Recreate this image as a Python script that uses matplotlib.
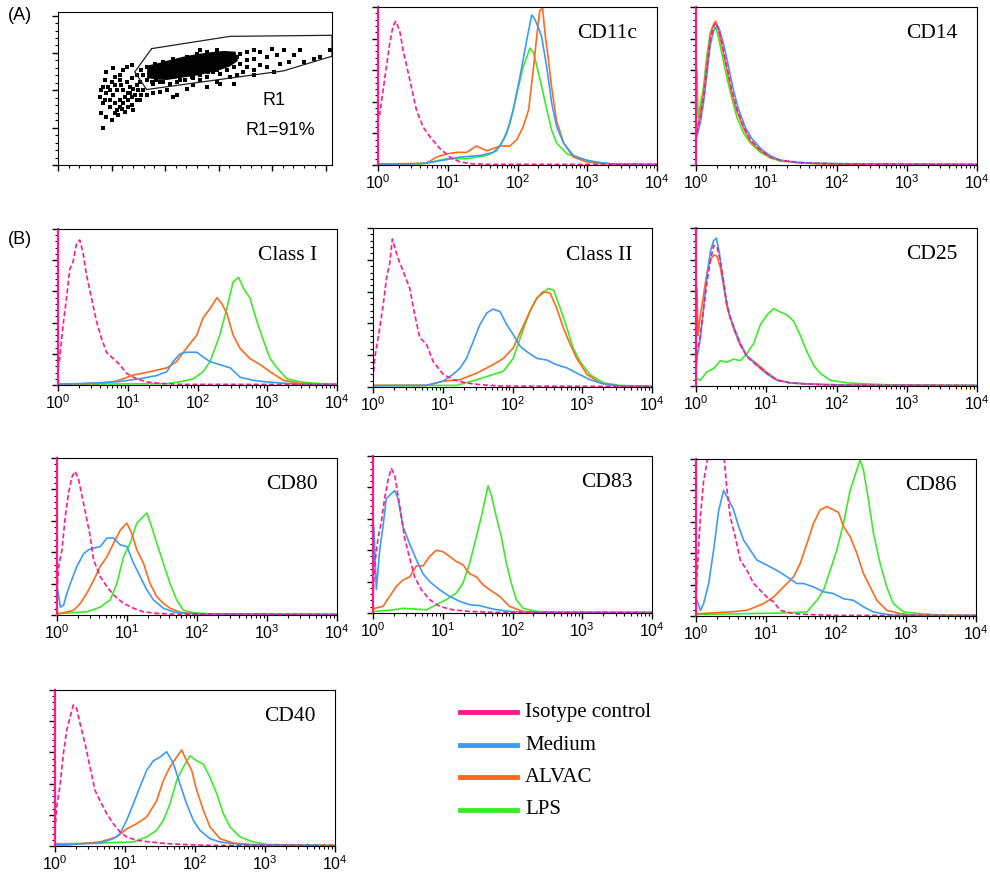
import numpy as np
import matplotlib
matplotlib.use('Agg')
import matplotlib.pyplot as plt
from matplotlib.lines import Line2D
from matplotlib.ticker import MultipleLocator, LogLocator, NullFormatter

plt.rcParams['font.family'] = ['Liberation Sans', 'DejaVu Sans']
plt.rcParams['mathtext.default'] = 'regular'

W, H = 990, 881

series_names = ['Isotype control', 'Medium', 'ALVAC', 'LPS']
series_colors = ['#FF1A8C', '#3D9BF5', '#FF6A1A', '#3CEB28']

# dot plot (FSC / SSC channels, 0..1024)
gate_fsc = [350, 643, 1024, 1024, 843, 656, 331, 287]
gate_ssc = [779, 861, 868, 728, 630, 585, 505, 623]
blob_fsc = [337, 370, 406, 440, 481, 530, 581, 620, 660, 668, 640, 600, 560, 520, 481, 440, 406, 370, 337]
blob_ssc = [660, 672, 690, 705, 723, 738, 750, 756, 752, 700, 665, 640, 622, 606, 596, 585, 576, 578, 588]
dot_fsc = [169, 162, 175, 181, 187, 200, 212, 231, 244, 256, 275, 194, 212, 231, 250,
           269, 281, 294, 306, 219, 237, 256, 275, 294, 181, 206, 262, 275, 294, 312,
           250, 219, 194, 231, 318, 331, 356, 381, 406, 431, 306, 281, 169, 156, 162,
           225, 241, 206, 269, 175,
           181, 200, 212, 231, 244, 262, 275, 194, 212, 169, 244, 262, 287, 300,
           681, 706, 731, 756, 781, 799, 818, 843, 862, 881, 906, 918, 955, 980, 1018,
           681, 706, 731, 656, 631, 606, 581, 556, 531, 556, 593, 656, 668, 693, 731,
           756, 781, 806, 831, 531, 506, 456, 431, 381, 356, 462, 531, 731, 706, 443,
           481, 506, 606, 643,
           331, 350, 368, 394, 418, 443, 475, 500, 531, 562, 593, 625, 643, 668, 593,
           556, 518, 481, 431, 393, 362, 331, 312, 318]
dot_ssc = [245, 345, 434, 479, 523, 557, 590, 601, 634, 657, 668, 390, 412, 434, 456,
           479, 512, 534, 557, 501, 534, 557, 579, 601, 623, 646, 390, 401, 434, 467,
           356, 367, 434, 568, 501, 467, 479, 490, 501, 456, 434, 367, 412, 456, 501,
           334, 378, 467, 523, 568,
           323, 301, 345, 390, 412, 434, 456, 501, 534, 523, 501, 479, 467, 501,
           746, 757, 768, 757, 723, 779, 735, 768, 690, 735, 768, 690, 712, 723, 768,
           679, 657, 634, 657, 634, 612, 623, 590, 568, 523, 557, 545, 601, 623, 601,
           668, 657, 623, 679, 634, 579, 568, 590, 557, 545, 657, 768, 712, 701, 467,
           512, 534, 545, 590,
           568, 557, 568, 557, 545, 557, 568, 590, 601, 623, 634, 668, 712, 723, 768,
           757, 746, 723, 712, 690, 679, 657, 634, 601]

# histograms: (log10 fluorescence, % of panel height)
cd11c_iso = [(0.0, 32), (0.024, 32), (0.072, 47), (0.12, 62), (0.168, 77), (0.216, 88), (0.254, 91),
             (0.311, 85), (0.359, 73), (0.455, 54), (0.55, 35), (0.647, 24), (0.743, 18), (0.886, 10.5),
             (1.03, 5), (1.17, 2), (1.37, 0.6), (1.6, 0.4), (4, 0.4)]
cd11c_med = [(0, 0.5), (0.6, 0.8), (0.934, 3), (1.174, 5), (1.461, 6), (1.653, 8), (1.749, 12), (1.844, 20),
             (1.94, 35), (2.036, 56), (2.132, 79), (2.204, 95), (2.251, 92), (2.299, 87), (2.347, 81),
             (2.419, 62), (2.491, 39), (2.563, 24), (2.659, 14), (2.802, 6), (2.994, 3), (3.186, 1.5),
             (3.377, 0.6), (4, 0.3)]
cd11c_alv = [(0, 0.5), (0.69, 1), (0.84, 5), (0.98, 7), (1.13, 8), (1.27, 8), (1.41, 12), (1.56, 9),
             (1.75, 12), (1.89, 12), (1.99, 16), (2.08, 24), (2.16, 35), (2.23, 62), (2.28, 83), (2.32, 98),
             (2.36, 99), (2.4, 81), (2.44, 68), (2.49, 49), (2.56, 28), (2.66, 14), (2.8, 5), (2.99, 2),
             (3.19, 1), (3.43, 0.6), (4, 0.3)]
cd11c_lps = [(0, 0.5), (0.69, 1), (0.98, 4), (1.27, 4), (1.56, 6), (1.70, 9), (1.80, 16), (1.89, 26),
             (1.99, 45), (2.08, 62), (2.18, 74), (2.23, 71), (2.28, 62), (2.35, 49), (2.42, 35), (2.49, 22),
             (2.56, 14), (2.71, 7), (2.9, 4), (3.09, 2), (3.33, 0.6), (4, 0.3)]

cd14_iso = [(0.014, 20), (0.062, 30), (0.109, 43), (0.157, 62), (0.204, 79), (0.251, 88), (0.289, 90),
            (0.323, 86), (0.37, 77), (0.441, 62), (0.512, 47), (0.584, 35), (0.679, 24), (0.773, 16),
            (0.916, 9.5), (1.058, 5), (1.2, 3), (1.438, 1.7), (1.675, 1), (2.15, 0.6), (4, 0.3)]
cd14_med = [(0.014, 18), (0.062, 27), (0.109, 40), (0.157, 58), (0.204, 76), (0.251, 85), (0.3, 88),
            (0.34, 85), (0.39, 77), (0.46, 63), (0.53, 48), (0.6, 36), (0.7, 24), (0.79, 17), (0.93, 10),
            (1.07, 5.5), (1.2, 3), (1.438, 1.7), (1.675, 1.2), (2.15, 0.8), (4, 0.3)]
cd14_alv = [(0.014, 22), (0.062, 33), (0.109, 47), (0.157, 66), (0.204, 82), (0.251, 89), (0.28, 91),
            (0.323, 85), (0.37, 75), (0.441, 60), (0.512, 45), (0.584, 34), (0.679, 23), (0.773, 15),
            (0.916, 9), (1.058, 5), (1.2, 3), (1.438, 1.5), (1.675, 1), (2.15, 0.5), (4, 0.3)]
cd14_lps = [(0.014, 60), (0.03, 30), (0.062, 38), (0.109, 50), (0.157, 70), (0.204, 84), (0.24, 88),
            (0.289, 86), (0.323, 80), (0.37, 70), (0.441, 55), (0.512, 42), (0.584, 30), (0.679, 20),
            (0.773, 14), (0.916, 8), (1.058, 4.5), (1.2, 2.5), (1.438, 1.5), (1.675, 1), (2.15, 0.5),
            (4, 0.3)]

class1_iso = [(0.0, 10), (0.024, 17), (0.072, 38), (0.12, 55), (0.168, 74), (0.216, 79), (0.263, 90),
              (0.311, 93), (0.359, 85), (0.407, 71), (0.479, 56), (0.551, 41), (0.623, 30), (0.695, 21),
              (0.79, 17), (0.886, 13), (0.982, 7.5), (1.126, 4), (1.269, 2), (1.461, 1), (1.8, 0.4),
              (4, 0.4)]
class1_med = [(0, 0.5), (0.359, 1), (0.84, 2), (1.17, 4), (1.41, 6), (1.56, 8.5), (1.65, 15), (1.75, 20),
              (1.84, 21), (1.99, 21), (2.08, 18), (2.18, 15), (2.32, 13), (2.47, 11), (2.61, 5), (2.8, 3),
              (2.99, 2), (3.28, 1), (3.47, 0.4), (4, 0.3)]
class1_alv = [(0, 0.5), (0.6, 1), (0.84, 2.5), (1.08, 6.4), (1.32, 8.5), (1.56, 11), (1.7, 15),
              (1.84, 23.5), (1.99, 32), (2.08, 43), (2.18, 49), (2.28, 56), (2.35, 52), (2.42, 46),
              (2.51, 32), (2.61, 23.5), (2.75, 17), (2.9, 13), (3.04, 8.5), (3.23, 3), (3.47, 1),
              (3.76, 0.4), (4, 0.3)]
class1_lps = [(0, 0.5), (1.56, 0.8), (1.8, 2.5), (1.94, 4), (2.08, 8.5), (2.18, 15), (2.32, 32),
              (2.42, 49), (2.51, 66), (2.59, 69), (2.66, 62), (2.75, 56), (2.85, 41), (2.95, 28),
              (3.04, 17), (3.14, 11), (3.28, 4), (3.47, 2), (3.71, 1), (4, 0.5)]

class2_iso = [(0.0, 5), (0.024, 18), (0.096, 37), (0.144, 51), (0.192, 68), (0.24, 78), (0.278, 93),
              (0.311, 88), (0.359, 81), (0.431, 73), (0.527, 62), (0.599, 45.5), (0.671, 31), (0.766, 27),
              (0.862, 16), (1.006, 8), (1.15, 4.6), (1.341, 2.5), (1.533, 1.5), (1.82, 0.6), (4, 0.3)]
class2_med = [(0, 0.8), (0.766, 1), (1.0, 3.6), (1.15, 8), (1.25, 12), (1.34, 18), (1.44, 29),
              (1.53, 39), (1.63, 46.5), (1.72, 49), (1.82, 47.5), (1.92, 39), (2.01, 33), (2.11, 25.6),
              (2.2, 22.4), (2.35, 18), (2.49, 17), (2.63, 14), (2.78, 12), (2.92, 8.8), (3.11, 4.6),
              (3.31, 1.9), (3.54, 0.6), (4, 0.3)]
class2_alv = [(0, 1), (0.766, 1), (1.0, 3.6), (1.25, 4.6), (1.49, 8.8), (1.72, 14), (1.87, 18),
              (2.01, 24.5), (2.16, 39), (2.25, 47.6), (2.35, 56), (2.44, 60), (2.54, 59), (2.63, 50),
              (2.73, 37), (2.83, 26.6), (2.92, 18), (3.07, 7.8), (3.26, 2.5), (3.45, 1), (3.64, 0.4),
              (4, 0.3)]
class2_lps = [(0, 1), (1.2, 1), (1.49, 4.6), (1.72, 7.8), (1.87, 9.9), (2.01, 18), (2.16, 37),
              (2.25, 47.6), (2.35, 56), (2.44, 59), (2.51, 62), (2.59, 61), (2.68, 50), (2.78, 37),
              (2.87, 24.5), (2.97, 16), (3.11, 7.8), (3.31, 2.5), (3.54, 1), (4, 0.4)]

cd25_iso = [(0.0, 10), (0.014, 21), (0.062, 32), (0.109, 49), (0.157, 66), (0.204, 79), (0.251, 89),
            (0.299, 88), (0.346, 79), (0.394, 66), (0.441, 51), (0.489, 43), (0.56, 34), (0.631, 26),
            (0.726, 18.5), (0.868, 13), (1.011, 8), (1.153, 3.6), (1.343, 1.9), (1.58, 1.3),
            (1.817, 0.8), (2.2, 0.5), (4, 0.3)]
cd25_med = [(0.0, 10), (0.014, 18), (0.062, 30), (0.109, 50), (0.157, 70), (0.204, 85), (0.251, 92),
            (0.29, 93.6), (0.33, 85), (0.37, 72), (0.42, 57), (0.47, 46), (0.54, 36), (0.62, 27),
            (0.726, 19), (0.868, 13), (1.011, 7.5), (1.153, 3.6), (1.343, 2), (1.58, 1.3), (1.817, 1),
            (2.2, 0.5), (4, 0.3)]
cd25_alv = [(0.0, 20), (0.014, 62), (0.03, 32), (0.062, 45), (0.109, 58), (0.157, 72), (0.204, 80),
            (0.26, 83), (0.299, 82), (0.346, 75), (0.394, 63), (0.441, 50), (0.489, 43), (0.56, 35),
            (0.631, 27), (0.726, 19), (0.868, 14), (1.011, 8.5), (1.153, 4), (1.343, 2), (1.58, 1.3),
            (1.817, 0.8), (4, 0.3)]
cd25_lps = [(0.014, 4.7), (0.062, 3.6), (0.157, 9), (0.251, 11), (0.346, 16), (0.441, 15), (0.536, 17),
            (0.631, 16), (0.726, 20.6), (0.821, 27), (0.916, 38.7), (1.011, 45), (1.106, 49),
            (1.2, 46.8), (1.295, 45), (1.39, 41), (1.485, 32), (1.58, 21.7), (1.675, 13), (1.77, 8),
            (1.912, 3.6), (2.15, 2), (2.434, 1.3), (2.719, 0.8), (4, 0.3)]

cd80_iso = [(0, 15), (0.024, 31), (0.071, 41.5), (0.119, 63), (0.166, 78), (0.214, 88), (0.261, 91.5),
            (0.309, 86), (0.356, 76), (0.428, 60.6), (0.475, 50), (0.523, 35), (0.618, 24.5),
            (0.713, 18), (0.808, 12.8), (0.95, 7.4), (1.093, 4.3), (1.235, 2), (1.425, 1),
            (1.663, 0.6), (4, 0.3)]
cd80_med = [(0.01, 16), (0.048, 5), (0.095, 6.4), (0.143, 14), (0.19, 20), (0.285, 31), (0.38, 39),
            (0.451, 41.5), (0.523, 42.6), (0.618, 43.6), (0.713, 49), (0.808, 49), (0.903, 44.7),
            (0.998, 43.6), (1.093, 33), (1.188, 24.5), (1.283, 16), (1.378, 9.6), (1.52, 4.3),
            (1.663, 2), (1.853, 1), (2.138, 0.6), (4, 0.3)]
cd80_alv = [(0, 1), (0.048, 1), (0.238, 3), (0.333, 7.4), (0.428, 14), (0.523, 22), (0.618, 31),
            (0.713, 37), (0.808, 45.7), (0.903, 54), (0.998, 58.5), (1.069, 52), (1.14, 41.5),
            (1.235, 33), (1.33, 20), (1.425, 11.7), (1.52, 7.4), (1.615, 4.3), (1.758, 1.7),
            (1.948, 0.8), (4, 0.3)]
cd80_lps = [(0, 1), (0.048, 1), (0.428, 2), (0.618, 5), (0.76, 9.6), (0.855, 20), (0.95, 37),
            (1.045, 45.7), (1.14, 58.5), (1.211, 61.7), (1.283, 65), (1.354, 56), (1.425, 45.7),
            (1.52, 33), (1.615, 20), (1.71, 9.6), (1.805, 3), (1.948, 1.5), (2.138, 0.8), (4, 0.3)]

cd83_iso = [(0, 10), (0.024, 30.7), (0.072, 47.6), (0.119, 58), (0.167, 73), (0.215, 84.6), (0.263, 92),
            (0.311, 87.7), (0.358, 75), (0.406, 61.7), (0.454, 47.6), (0.526, 34.9), (0.597, 23),
            (0.693, 14.8), (0.812, 8.5), (0.956, 4.2), (1.147, 2), (1.386, 1), (1.72, 0.4), (4, 0.3)]
cd83_med = [(0.0, 10), (0.012, 55), (0.048, 15), (0.096, 40), (0.143, 55), (0.191, 73), (0.263, 76),
            (0.311, 78), (0.358, 73), (0.43, 55), (0.526, 44), (0.621, 34), (0.717, 25), (0.812, 20),
            (0.956, 14.8), (1.099, 10.6), (1.243, 7.4), (1.386, 5.3), (1.529, 4.7), (1.72, 2.5),
            (1.959, 1), (2.198, 0.4), (4, 0.3)]
cd83_alv = [(0, 2), (0.024, 3), (0.143, 4.2), (0.239, 10.6), (0.335, 17), (0.43, 21), (0.526, 23),
            (0.621, 30), (0.717, 30), (0.812, 36), (0.908, 40), (1.004, 39), (1.099, 36), (1.195, 32.8),
            (1.29, 30.7), (1.386, 25), (1.482, 23), (1.577, 18), (1.673, 14.8), (1.816, 10.6),
            (1.959, 4.2), (2.151, 1), (2.389, 0.4), (4, 0.3)]
cd83_lps = [(0, 1), (0.024, 1), (0.287, 2), (0.43, 3), (0.765, 2), (0.908, 5.3), (1.051, 8.5),
            (1.195, 12.7), (1.29, 19), (1.386, 31.7), (1.482, 48.6), (1.553, 61.3), (1.625, 76),
            (1.649, 81), (1.697, 75), (1.768, 61.3), (1.84, 48.6), (1.912, 31.7), (1.983, 19),
            (2.055, 8.5), (2.151, 3), (2.342, 1), (2.676, 0.4), (4, 0.3)]

cd86_iso = [(0.0, 10), (0.014, 25), (0.062, 63), (0.109, 86), (0.181, 104), (0.395, 104), (0.442, 80.8),
            (0.49, 63), (0.561, 50.5), (0.633, 35.6), (0.728, 29), (0.823, 20.7), (0.918, 16.4),
            (1.013, 12), (1.108, 9), (1.203, 3.6), (1.394, 1.5), (1.679, 0.8), (1.964, 0.4), (4, 0.3)]
cd86_med = [(0.014, 10), (0.062, 3.6), (0.109, 7.9), (0.181, 20.7), (0.252, 42), (0.323, 67),
            (0.395, 80), (0.466, 74), (0.537, 67.6), (0.609, 57), (0.68, 48.4), (0.775, 42),
            (0.87, 35.6), (1.013, 32.4), (1.156, 29), (1.298, 25), (1.441, 20.7), (1.536, 20.7),
            (1.679, 18.5), (1.822, 15.4), (1.964, 14.3), (2.107, 11), (2.25, 10), (2.393, 5.8),
            (2.535, 2.6), (2.725, 1), (2.916, 0.4), (4, 0.3)]
cd86_alv = [(0, 1.5), (0.062, 1.5), (0.49, 2.6), (0.728, 3.6), (0.966, 7.9), (1.108, 12), (1.251, 18.5),
            (1.394, 25), (1.489, 33.5), (1.584, 46), (1.679, 59), (1.774, 67.6), (1.869, 69.7),
            (1.964, 67.6), (2.036, 66), (2.107, 57), (2.202, 50.5), (2.297, 40), (2.393, 27),
            (2.488, 18.5), (2.583, 10), (2.725, 3.6), (2.916, 1.5), (3.106, 0.6), (4, 0.3)]
cd86_lps = [(0, 1), (0.062, 1), (0.728, 1.5), (1.203, 1.9), (1.584, 2.6), (1.727, 10), (1.822, 16.4),
            (1.917, 29), (2.012, 42), (2.107, 59), (2.202, 80), (2.297, 93), (2.345, 99.6),
            (2.392, 93), (2.464, 74), (2.535, 52.7), (2.63, 33.5), (2.725, 18.5), (2.82, 7.9),
            (2.963, 2.6), (3.201, 1.5), (3.486, 0.6), (4, 0.3)]

cd40_iso = [(0.0, 10), (0.024, 25), (0.071, 38.5), (0.119, 59), (0.167, 74), (0.214, 82.4), (0.262, 90.4),
            (0.31, 88), (0.357, 78.6), (0.429, 65.7), (0.5, 50.7), (0.571, 35.8), (0.643, 29),
            (0.738, 20.8), (0.833, 14.3), (0.929, 9), (1.024, 5.8), (1.167, 3.6), (1.357, 2.6),
            (1.595, 1.5), (1.881, 0.9), (2.167, 0.4), (4, 0.3)]
cd40_med = [(0, 1), (0.167, 1), (0.643, 1.9), (0.833, 4.7), (0.929, 7.9), (1.024, 16.5), (1.119, 27),
            (1.214, 38), (1.31, 48.6), (1.405, 54.6), (1.5, 57), (1.595, 60.4), (1.69, 53),
            (1.786, 39.6), (1.881, 27), (1.976, 16.5), (2.071, 10), (2.214, 4.7), (2.357, 2.6),
            (2.548, 1.5), (2.833, 0.6), (4, 0.3)]
cd40_alv = [(0, 0.6), (0.167, 0.6), (0.643, 2.6), (0.881, 5.8), (1.024, 11), (1.167, 14.3), (1.31, 18.6),
            (1.452, 29), (1.548, 42), (1.643, 50.7), (1.738, 57), (1.81, 61.5), (1.881, 54.6),
            (1.952, 48.6), (2.024, 35.8), (2.119, 23), (2.214, 12.2), (2.357, 4.7), (2.548, 1.9),
            (2.786, 1), (3.024, 0.6), (4, 0.3)]
cd40_lps = [(0, 1.5), (0.167, 1.5), (0.643, 1.9), (1.119, 2.6), (1.31, 5.8), (1.452, 10), (1.548, 16.5),
            (1.643, 27), (1.738, 42), (1.833, 50.7), (1.929, 57.8), (2.024, 54.6), (2.119, 52.5),
            (2.214, 44), (2.31, 33.6), (2.405, 20.8), (2.5, 12.2), (2.643, 5.8), (2.833, 2.6),
            (3.024, 1), (4, 0.3)]

# panel name, box in pixels (left, top, right, bottom), curves
panels = [
    ('CD11c', (378, 7, 657, 165), [cd11c_iso, cd11c_med, cd11c_alv, cd11c_lps]),
    ('CD14', (696, 7, 977, 165), [cd14_iso, cd14_med, cd14_alv, cd14_lps]),
    ('Class I', (58, 229, 337, 385), [class1_iso, class1_med, class1_alv, class1_lps]),
    ('Class II', (373, 228, 652, 387), [class2_iso, class2_med, class2_alv, class2_lps]),
    ('CD25', (696, 228, 977, 386), [cd25_iso, cd25_med, cd25_alv, cd25_lps]),
    ('CD80', (57, 458, 337, 615), [cd80_iso, cd80_med, cd80_alv, cd80_lps]),
    ('CD83', (373, 456, 652, 613), [cd83_iso, cd83_med, cd83_alv, cd83_lps]),
    ('CD86', (696, 459, 976, 616), [cd86_iso, cd86_med, cd86_alv, cd86_lps]),
    ('CD40', (55, 690, 335, 846), [cd40_iso, cd40_med, cd40_alv, cd40_lps]),
]


def px_axes(fig, box):
    l, t, r, b = box
    return fig.add_axes([l / W, 1 - b / H, (r - l) / W, (b - t) / H])


fig = plt.figure(figsize=(W / 100, H / 100), dpi=100)

# (A) scatter plot with gate R1
ax0 = px_axes(fig, (58, 12, 332, 165))
ax0.set_xlim(0, 1024)
ax0.set_ylim(0, 1024)
ax0.fill(blob_fsc, blob_ssc, color='black', lw=1.5)
ax0.scatter(dot_fsc, dot_ssc, s=6, marker='s', color='black', lw=0)
ax0.plot(gate_fsc + gate_fsc[:1], gate_ssc + gate_ssc[:1], color='#222222', lw=0.9)
ax0.text(806, 434, 'R1', ha='center', va='center', fontsize=13)
ax0.text(831, 234, 'R1=91%', ha='center', va='center', fontsize=13)
ax0.xaxis.set_major_locator(MultipleLocator(200))
ax0.xaxis.set_minor_locator(MultipleLocator(40))
ax0.yaxis.set_major_locator(MultipleLocator(250))
ax0.yaxis.set_minor_locator(MultipleLocator(50))
ax0.tick_params(which='major', direction='out', length=4, width=1,
                labelbottom=False, labelleft=False)
ax0.tick_params(which='minor', direction='out', length=2.5, width=0.8)

for name, box, curves in panels:
    ax = px_axes(fig, box)
    # LPS under ALVAC under Medium under isotype
    for i in [3, 2, 1, 0]:
        lx = np.array([p[0] for p in curves[i]])
        yy = np.array([p[1] for p in curves[i]])
        if i == 0:
            ax.plot(10 ** lx, yy, color=series_colors[i], lw=1.2, dashes=(3, 1.6))
        else:
            ax.plot(10 ** lx, yy, color=series_colors[i], lw=1.2)
    ax.set_xscale('log')
    ax.set_xlim(1, 1e4)
    ax.set_ylim(0, 100)
    ax.xaxis.set_major_locator(LogLocator(10, numticks=10))
    ax.xaxis.set_minor_locator(LogLocator(10, subs=np.arange(2, 10), numticks=10))
    ax.xaxis.set_minor_formatter(NullFormatter())
    ax.yaxis.set_major_locator(MultipleLocator(20))
    ax.yaxis.set_minor_locator(MultipleLocator(4))
    ax.tick_params(which='major', direction='out', length=4, width=1, labelsize=11.5, pad=2)
    ax.tick_params(which='minor', direction='out', length=2.5, width=0.8)
    ax.tick_params(axis='y', labelleft=False)
    if name != 'Class II':
        ax.spines['left'].set_color(series_colors[0])
        ax.spines['left'].set_linewidth(1.6)
    ax.text(0.93, 0.83, name, transform=ax.transAxes, ha='right', va='center',
            fontsize=15.5, family='Liberation Serif')

fig.text(8 / W, 1 - 15 / H, '(A)', va='center', ha='left', fontsize=13)
fig.text(8 / W, 1 - 239 / H, '(B)', va='center', ha='left', fontsize=13)

# legend
legend_y = [712, 745, 777, 810]
for name, color, y in zip(series_names, series_colors, legend_y):
    fig.add_artist(Line2D([460 / W, 517 / W], [1 - y / H, 1 - y / H], color=color, lw=3.5))
    fig.text(525 / W, 1 - y / H, name, va='center', ha='left', fontsize=15,
             family='Liberation Serif')

fig.savefig('out.png', dpi=100)
